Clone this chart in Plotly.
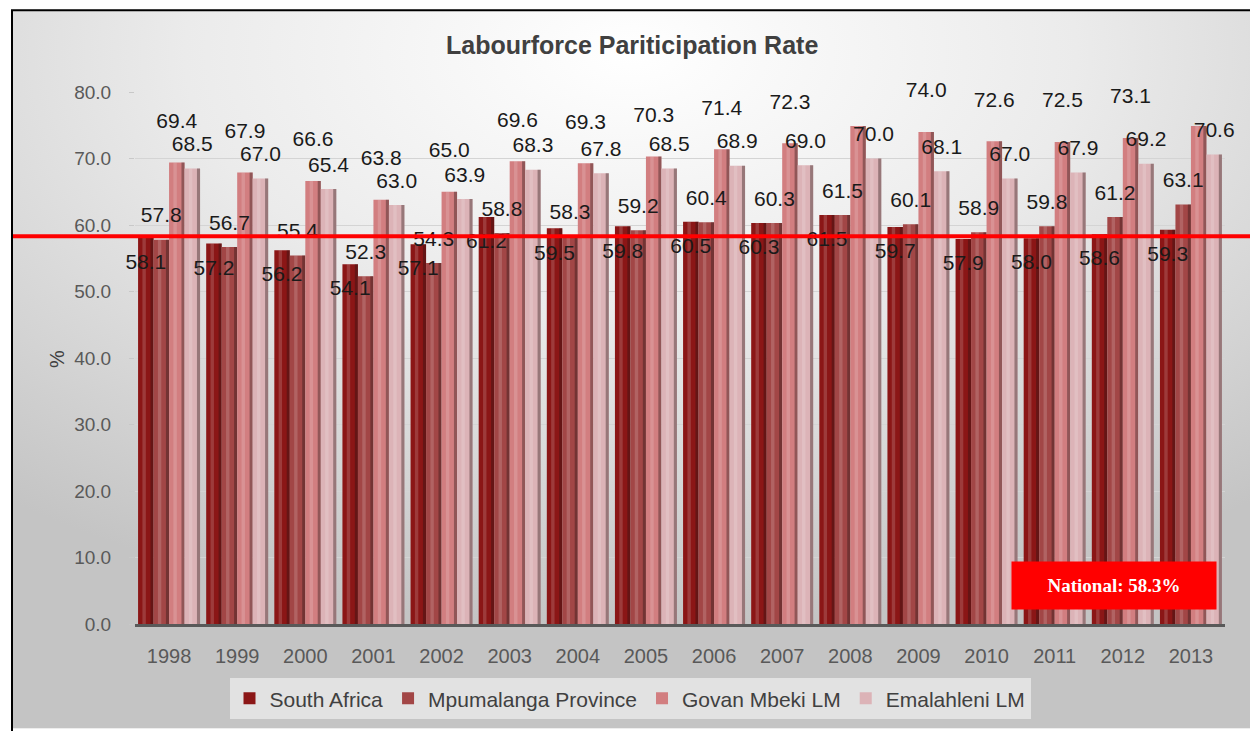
import base64
import plotly.graph_objects as go

# ---- data ----
years = [1998, 1999, 2000, 2001, 2002, 2003, 2004, 2005,
         2006, 2007, 2008, 2009, 2010, 2011, 2012, 2013]
south_africa = [58.1, 57.2, 56.2, 54.1, 57.1, 61.2, 59.5, 59.8,
                60.5, 60.3, 61.5, 59.7, 57.9, 58.0, 58.6, 59.3]
mpumalanga = [57.8, 56.7, 55.4, 52.3, 54.3, 58.8, 58.3, 59.2,
              60.4, 60.3, 61.5, 60.1, 58.9, 59.8, 61.2, 63.1]
govan_mbeki = [69.4, 67.9, 66.6, 63.8, 65.0, 69.6, 69.3, 70.3,
               71.4, 72.3, 74.9, 74.0, 72.6, 72.5, 73.1, 74.9]
emalahleni = [68.5, 67.0, 65.4, 63.0, 63.9, 68.3, 67.8, 68.5,
              68.9, 69.0, 70.0, 68.1, 67.0, 67.9, 69.2, 70.6]
national_rate = 58.3

series = [
    ("South Africa", south_africa, "#8b1616", -3.9),
    ("Mpumalanga Province", mpumalanga, "#a24646", 3.4),
    ("Govan Mbeki LM", govan_mbeki, "#d27e80", 6.0),
    ("Emalahleni LM", emalahleni, "#dcb3b7", 3.4),
]

# ---- geometry helpers (figure pixels -> paper coords) ----
W, H = 1250, 731
ML, MR, MT, MB = 135, 25, 92, 105
PW, PH = W - ML - MR, H - MT - MB


def px_x(p):
    return (p - ML) / PW


def px_y(p):
    return (H - MB - p) / PH


group_w = 0.91
bw = group_w / len(series)

fig = go.Figure()

for i, (name, vals, color, lab_off) in enumerate(series):
    left = -group_w / 2 + i * bw
    fig.add_trace(go.Bar(
        x=years, y=vals, name=name, width=bw, offset=left,
        marker=dict(color=color, line=dict(width=0)),
        hoverinfo="x+y+name",
    ))
    # soft highlight down the bar
    fig.add_trace(go.Bar(
        x=years, y=vals, width=bw * 0.22, offset=left + bw * 0.28,
        marker=dict(color="rgba(255,255,255,0.16)", line=dict(width=0)),
        showlegend=False, hoverinfo="skip",
    ))
    # shadow on the right edge
    fig.add_trace(go.Bar(
        x=years, y=vals, width=bw * 0.2, offset=left + bw * 0.8,
        marker=dict(color="rgba(40,20,20,0.38)", line=dict(width=0)),
        showlegend=False, hoverinfo="skip",
    ))

# value labels
for i, (name, vals, color, lab_off) in enumerate(series):
    centre = -group_w / 2 + (i + 0.5) * bw
    fig.add_trace(go.Scatter(
        x=[y + centre for y in years],
        y=[v + lab_off for v in vals],
        text=[f"{v:.1f}" for v in vals],
        mode="text",
        textposition="middle center",
        textfont=dict(family="Liberation Sans, Arial", size=21, color="#1a1a1a"),
        cliponaxis=False,
        showlegend=False, hoverinfo="skip",
    ))

# background panel with soft radial shading
svg = (
    '<svg xmlns="http://www.w3.org/2000/svg" width="1240" height="721" '
    'viewBox="0 0 1240 721" preserveAspectRatio="none"><defs>'
    '<radialGradient id="g" cx="0.5" cy="0.06" r="0.8">'
    '<stop offset="0" stop-color="#ffffff"/>'
    '<stop offset="0.45" stop-color="#ebebeb"/>'
    '<stop offset="1" stop-color="#c4c4c4"/>'
    '</radialGradient></defs>'
    '<rect width="1240" height="721" fill="url(#g)"/></svg>'
)
bg_src = "data:image/svg+xml;base64," + base64.b64encode(svg.encode()).decode()

fig.update_layout(
    width=W, height=H,
    margin=dict(l=ML, r=MR, t=MT, b=MB, pad=0),
    paper_bgcolor="#ffffff",
    plot_bgcolor="rgba(0,0,0,0)",
    barmode="overlay",
    font=dict(family="Liberation Sans, Arial", color="#595959"),
    images=[dict(
        source=bg_src, xref="paper", yref="paper",
        x=px_x(12), y=px_y(10),
        sizex=(W - 12) / PW, sizey=(H - 10) / PH,
        xanchor="left", yanchor="top", sizing="stretch", layer="below",
    )],
    xaxis=dict(
        range=[years[0] - 0.5, years[-1] + 0.5],
        tickvals=years, ticktext=[str(y) for y in years],
        tickfont=dict(size=20, color="#595959"),
        showgrid=False, zeroline=False,
        showline=True, linecolor="#595959", linewidth=3,
        ticks="", ticklabelstandoff=12,
    ),
    yaxis=dict(
        range=[0, 80], dtick=10, tickformat=".1f",
        tickfont=dict(size=19, color="#595959"),
        showgrid=True, gridcolor="#d4d4d4", gridwidth=1,
        zeroline=False, showline=False,
        ticks="outside", ticklen=5, tickcolor="#c8c8c8",
        ticklabelstandoff=14,
    ),
    legend=dict(
        orientation="h", x=px_x(630), xanchor="center",
        y=px_y(701), yanchor="middle",
        bgcolor="#e2e2e2", font=dict(size=21, color="#404040"),
        itemwidth=30, traceorder="normal",
    ),
    shapes=[
        # national reference line
        dict(type="line", xref="paper", yref="y",
             x0=px_x(12), x1=px_x(W), y0=national_rate, y1=national_rate,
             line=dict(color="#ff0000", width=4), layer="above"),
        # outer frame
        dict(type="rect", xref="paper", yref="paper",
             x0=px_x(12), x1=px_x(W + 4), y0=px_y(H + 4), y1=px_y(10),
             line=dict(color="#000000", width=2), fillcolor="rgba(0,0,0,0)",
             layer="above"),
    ],
    annotations=[
        dict(text="<b>Labourforce Pariticipation Rate</b>",
             xref="paper", yref="paper", x=px_x(632), y=px_y(45),
             xanchor="center", yanchor="middle", showarrow=False,
             font=dict(size=25, color="#404040")),
        dict(text="%", xref="paper", yref="paper", x=px_x(57), y=px_y(360),
             xanchor="center", yanchor="middle", showarrow=False,
             textangle=-90, font=dict(size=20, color="#404040")),
        dict(text=f"<b>National: {national_rate}%</b>",
             xref="paper", yref="paper", x=px_x(1114), y=px_y(587),
             xanchor="center", yanchor="middle", showarrow=False,
             width=204, height=47, bgcolor="#ff0000", borderpad=0,
             font=dict(family="Liberation Serif, Times New Roman", size=19,
                       color="#ffffff")),
    ],
)

fig.write_html("out.html")
